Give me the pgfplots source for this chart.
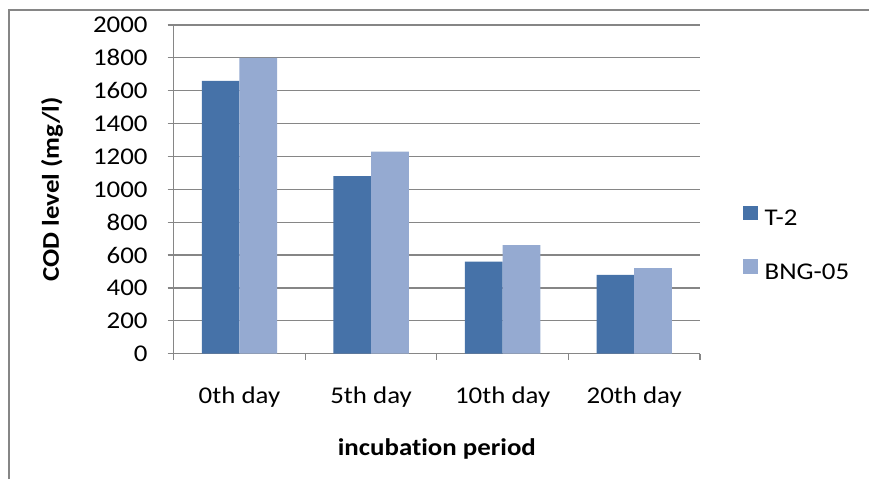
\documentclass[border=0pt]{standalone}
\usepackage{fontspec}
\setmainfont{Carlito}[FakeStretch=1.12, Ligatures=NoCommon]
\usepackage{pgfplots}
\pgfplotsset{compat=1.18}
\definecolor{barA}{HTML}{4672A8}
\definecolor{barB}{HTML}{95AAD1}
\definecolor{gridc}{HTML}{868686}

\pgfplotsset{sq legend/.style={legend image code/.code={\fill[##1] (0pt,0pt) rectangle (14.5pt,14.5pt);}}}

\begin{document}
\begin{tikzpicture}[x=1pt,y=1pt]
\useasboundingbox[fill=white] (0,0) rectangle (869,479);
\draw[gridc, line width=1.2pt] (9,0) -- (9,469) -- (869,469);
\begin{axis}[
    at={(173.7pt,125.3pt)}, anchor=south west,
    scale only axis, width=526.3pt, height=328.7pt,
    xmin=-0.5, xmax=3.5, ymin=0, ymax=2000,
    ytick={0,200,...,2000},
    xtick={-0.5,0.5,1.5,2.5,3.5}, xticklabels={},
    extra x ticks={0,1,2,3},
    extra x tick labels={0th day,5th day,10th day,20th day},
    extra x tick style={major tick length=0pt, grid=none,
        tick label style={anchor=base, yshift=-50pt}},
    axis x line*=bottom, axis y line*=left,
    axis line style={gridc, line width=1.2pt},
    tick align=outside, major tick length=6pt,
    tick style={gridc, line width=1.2pt},
    ymajorgrids, grid style={gridc, line width=1.2pt},
    font=\fontsize{24}{28}\selectfont,
    /pgf/number format/1000 sep={},
    /pgf/number format/assume math mode=true,
    yticklabel style={anchor=east, inner sep=0pt, xshift=-20pt},
    xlabel={\bfseries incubation period},
    xlabel style={at={(axis description cs:0.5,0)}, anchor=center, yshift=-94.8pt},
    ylabel={\bfseries COD level (mg/l)},
    ylabel style={at={(axis description cs:-0.2312,0.5)}, anchor=center},
    legend style={draw=none, fill=none, at={(1,0.331)}, anchor=west, xshift=43pt,
        inner sep=0pt, column sep=7pt, row sep=28.5pt,
        nodes={inner sep=0pt, text height=16pt, text depth=5pt},
        font=\fontsize{24}{28}\selectfont},
    legend cell align=left,
]
\addplot[ybar, sq legend, fill=barA, draw=none, bar width=0.2865, bar shift=-0.1433]
    coordinates {(0,1660) (1,1080) (2,560) (3,480)};
\addlegendentry{T-2}
\addplot[ybar, sq legend, fill=barB, draw=none, bar width=0.2865, bar shift=0.1433]
    coordinates {(0,1800) (1,1230) (2,660) (3,520)};
\addlegendentry{BNG-05}
\end{axis}
\end{tikzpicture}
\end{document}
